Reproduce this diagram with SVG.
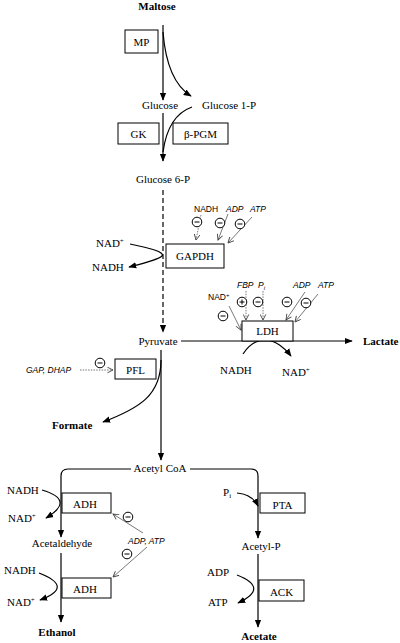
<svg xmlns="http://www.w3.org/2000/svg" width="400" height="643" viewBox="0 0 400 643">
<defs>
<marker id="ah" viewBox="0 0 10 10" refX="9" refY="5" markerWidth="8" markerHeight="8" markerUnits="userSpaceOnUse" orient="auto"><path d="M0,1 L10,5 L0,9 z" fill="#000"/></marker>
<marker id="oh" viewBox="0 0 10 10" refX="9" refY="5" markerWidth="7" markerHeight="7" markerUnits="userSpaceOnUse" orient="auto"><path d="M1,1 L9,5 L1,9" fill="none" stroke="#444" stroke-width="1.3"/></marker>
<g id="minus"><circle cx="0" cy="0" r="4.8" fill="#fff" stroke="#000" stroke-width="1"/><line x1="-2.5" y1="0" x2="2.5" y2="0" stroke="#000" stroke-width="1"/></g>
<g id="plus"><circle cx="0" cy="0" r="4.8" fill="#fff" stroke="#000" stroke-width="1"/><line x1="-2.5" y1="0" x2="2.5" y2="0" stroke="#000" stroke-width="1"/><line x1="0" y1="-2.5" x2="0" y2="2.5" stroke="#000" stroke-width="1"/></g>
</defs>
<style>
text{font-family:"Liberation Serif","Times New Roman",serif;font-size:11px;fill:#000}
.b{font-weight:bold}
.m{text-anchor:middle}
.s{font-family:"Liberation Sans",Arial,sans-serif;font-size:8.5px}
.i{font-style:italic}
.box{fill:#fff;stroke:#000;stroke-width:1}
.ln{fill:none;stroke:#000;stroke-width:1.2}
.dash{stroke-dasharray:5,3}
.inh{fill:none;stroke:#555;stroke-width:0.8}
.dot{stroke-dasharray:1.5,1.2}
</style>
<rect width="400" height="643" fill="#fff"/>

<g id="connectors">
<path class="ln" d="M163,25 L163,100" marker-end="url(#ah)"/>
<path class="ln" d="M163,32 C166,70 178,88 191,96" marker-end="url(#ah)"/>
<path class="ln" d="M163,113 L163,161" marker-end="url(#ah)"/>
<path class="ln" d="M192,107 C175,113 166,130 163,152"/>
<path class="ln dash" d="M163,190 L163,332" marker-end="url(#ah)"/>
<path class="ln" d="M130,244 C150,248 165,252 162,256 C158,260 145,263 129,267" marker-end="url(#ah)"/>
<path class="inh dot" d="M201,215 L196,240" marker-end="url(#oh)"/>
<path class="inh" d="M228,214 L218,240" marker-end="url(#oh)"/>
<path class="inh" d="M252,217 L228,243" marker-end="url(#oh)"/>
<path class="ln" d="M181,341 L352,341" marker-end="url(#ah)"/>
<path class="ln" d="M243,354 C250,343 258,340 265,340 C275,340 285,348 291,356" marker-end="url(#ah)"/>
<path class="inh" d="M229,306 L241,330" marker-end="url(#oh)"/>
<path class="inh dot" d="M246,291 L246,320" marker-end="url(#oh)"/>
<path class="inh dot" d="M263,291 L263,320" marker-end="url(#oh)"/>
<path class="inh" d="M305,292 L286,320" marker-end="url(#oh)"/>
<path class="inh" d="M318,294 L295,322" marker-end="url(#oh)"/>
<path class="ln" d="M161,350 L161,460" marker-end="url(#ah)"/>
<path class="ln" d="M161,360 C161,395 140,408 103,422" marker-end="url(#ah)"/>
<path class="inh dot" d="M80,370 L113,370" marker-end="url(#oh)"/>
<path class="ln" d="M131,469 L68,469 Q61,469 61,476 L61,537" marker-end="url(#ah)"/>
<path class="ln" d="M190,469 L251,469 Q258,469 258,476 L258,538" marker-end="url(#ah)"/>
<path class="ln" d="M42,490 Q76,500 46,518" marker-end="url(#ah)"/>
<path class="inh" d="M143,533 L113,514" marker-end="url(#oh)"/>
<path class="inh" d="M147,547 L113,577" marker-end="url(#oh)"/>
<path class="ln" d="M61,553 L61,622" marker-end="url(#ah)"/>
<path class="ln" d="M39,573 Q75,587 40,600" marker-end="url(#ah)"/>
<path class="ln" d="M237,493 Q252,494 258,506" marker-end="url(#ah)"/>
<path class="ln" d="M258,554 L258,627" marker-end="url(#ah)"/>
<path class="ln" d="M237,575 Q270,588 238,603" marker-end="url(#ah)"/>
</g>

<g id="inhibitors">
<use href="#minus" x="197" y="222"/>
<use href="#minus" x="220" y="223"/>
<use href="#minus" x="240" y="224"/>
<use href="#minus" x="223" y="316"/>
<use href="#plus" x="242" y="302"/>
<use href="#minus" x="258" y="302"/>
<use href="#minus" x="287" y="302"/>
<use href="#minus" x="306" y="303"/>
<use href="#minus" x="100" y="363"/>
<use href="#minus" x="128" y="517"/>
<use href="#minus" x="127" y="554"/>
</g>

<g id="maltose"><text class="b m" x="157" y="10">Maltose</text></g>
<g id="mp"><rect class="box" x="125" y="30" width="33" height="23"/><text class="m" x="141.5" y="46">MP</text></g>
<g id="glucose"><text class="m" x="160" y="109">Glucose</text></g>
<g id="glucose1p"><text x="202" y="109">Glucose 1-P</text></g>
<g id="gk"><rect class="box" x="118" y="123" width="41" height="21"/><text class="m" x="138.5" y="138">GK</text></g>
<g id="bpgm"><rect class="box" x="173" y="123" width="55" height="21"/><text class="m" x="200.5" y="138">β-PGM</text></g>
<g id="glucose6p"><text class="m" x="163" y="183">Glucose 6-P</text></g>
<g id="gapdh"><rect class="box" x="166" y="244" width="58" height="24"/><text class="m" x="195" y="260">GAPDH</text></g>
<g id="gapdh-cof"><text x="96" y="247">NAD<tspan font-size="7" dy="-4">+</tspan></text><text x="92" y="271">NADH</text></g>
<g id="gapdh-inh"><text class="s" x="194" y="212">NADH</text><text class="s i" x="226" y="212">ADP</text><text class="s i" x="250" y="212">ATP</text></g>
<g id="pyruvate"><text class="m" x="158" y="345">Pyruvate</text></g>
<g id="ldh"><rect class="box" x="242" y="321" width="51" height="20"/><text class="m" x="267.5" y="335">LDH</text></g>
<g id="ldh-inh"><text class="s" x="208" y="300">NAD<tspan font-size="6" dy="-3">+</tspan></text><text class="s i" x="237" y="288">FBP</text><text class="s i" x="258" y="288">P<tspan font-size="6" dy="2">i</tspan></text><text class="s i" x="293" y="288">ADP</text><text class="s i" x="318" y="288">ATP</text></g>
<g id="lactate"><text class="b" x="363" y="345">Lactate</text></g>
<g id="ldh-cof"><text x="220" y="374">NADH</text><text x="282" y="376">NAD<tspan font-size="7" dy="-4">+</tspan></text></g>
<g id="pfl"><rect class="box" x="115" y="359" width="41" height="20"/><text class="m" x="135.5" y="374">PFL</text></g>
<g id="pfl-inh"><text class="s i" x="26" y="373" font-size="9">GAP,  DHAP</text></g>
<g id="formate"><text class="b" x="52" y="429">Formate</text></g>
<g id="acetylcoa"><text class="m" x="160" y="472">Acetyl CoA</text></g>
<g id="adh1"><rect class="box" x="62" y="493" width="49" height="20"/><text class="m" x="85" y="508">ADH</text></g>
<g id="adh1-cof"><text x="7" y="494">NADH</text><text x="8" y="522">NAD<tspan font-size="7" dy="-4">+</tspan></text></g>
<g id="adh-inh"><text class="s i" x="128" y="544" font-size="9">ADP, ATP</text></g>
<g id="acetaldehyde"><text class="m" x="62" y="547">Acetaldehyde</text></g>
<g id="adh2"><rect class="box" x="62" y="578" width="49" height="20"/><text class="m" x="85" y="593">ADH</text></g>
<g id="adh2-cof"><text x="4" y="574">NADH</text><text x="7" y="606">NAD<tspan font-size="7" dy="-4">+</tspan></text></g>
<g id="ethanol"><text class="b m" x="57" y="636">Ethanol</text></g>
<g id="pta"><rect class="box" x="260" y="493" width="45" height="20"/><text class="m" x="282.5" y="509">PTA</text></g>
<g id="pta-cof"><text x="223" y="496">P<tspan font-size="7" dy="2">i</tspan></text></g>
<g id="acetylp"><text class="m" x="261" y="550">Acetyl-P</text></g>
<g id="ack"><rect class="box" x="259" y="580" width="45" height="21"/><text class="m" x="281.5" y="596">ACK</text></g>
<g id="ack-cof"><text x="207" y="576">ADP</text><text x="208" y="606">ATP</text></g>
<g id="acetate"><text class="b m" x="259" y="640">Acetate</text></g>
</svg>
